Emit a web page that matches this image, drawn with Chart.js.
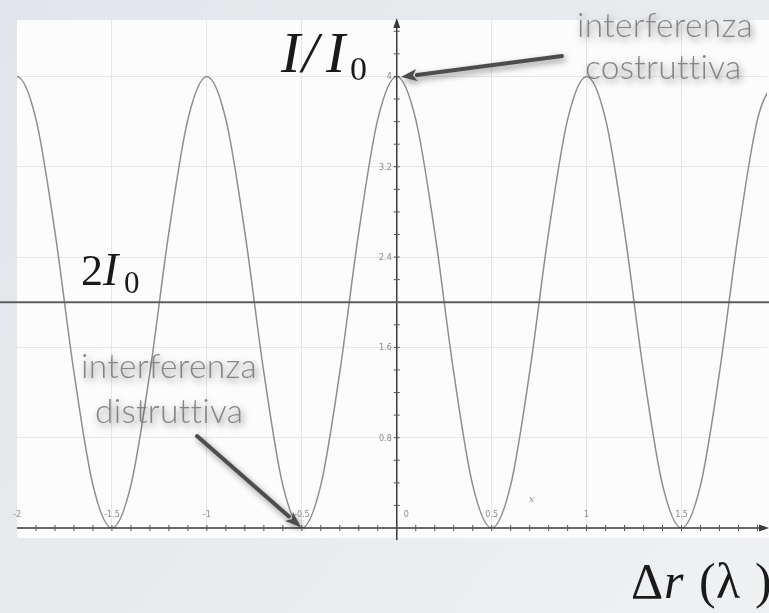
<!DOCTYPE html>
<html>
<head>
<meta charset="utf-8">
<script src="https://cdn.jsdelivr.net/npm/chart.js@4/dist/chart.umd.min.js"></script>
<style>
  html, body { margin: 0; padding: 0; background: #e9ecef; }
  #wrap { width: 769px; height: 613px; }
</style>
</head>
<body>
<div id="wrap"><canvas id="interfChart" width="769" height="613"></canvas></div>
<script>
// path difference (in wavelengths) and intensity I/I0
const deltaR = [-2.1, -2, -1.9, -1.8, -1.7, -1.6, -1.5, -1.4, -1.3, -1.2, -1.1,
                -1, -0.9, -0.8, -0.7, -0.6, -0.5, -0.4, -0.3, -0.2, -0.1,
                0, 0.1, 0.2, 0.3, 0.4, 0.5, 0.6, 0.7, 0.8, 0.9,
                1, 1.1, 1.2, 1.3, 1.4, 1.5, 1.6, 1.7, 1.8, 1.9, 2];
const intensity = [3.62, 4, 3.62, 2.62, 1.38, 0.38, 0, 0.38, 1.38, 2.62, 3.62,
                   4, 3.62, 2.62, 1.38, 0.38, 0, 0.38, 1.38, 2.62, 3.62,
                   4, 3.62, 2.62, 1.38, 0.38, 0, 0.38, 1.38, 2.62, 3.62,
                   4, 3.62, 2.62, 1.38, 0.38, 0, 0.38, 1.38, 2.62, 3.62, 4];
const refLevel = [2];   // 2 I0 line

// tick labels
const xTicks = [-2, -1.5, -1, -0.5, 0, 0.5, 1, 1.5];
const xTickLabels = ['-2', '-1.5', '-1', '-0.5', '0', '0.5', '1', '1.5'];
const yTicks = [0.8, 1.6, 2.4, 3.2, 4];
const yTickLabels = ['0.8', '1.6', '2.4', '3.2', '4'];

function arrow(ctx, x1, y1, x2, y2) {
    const a = Math.atan2(y2 - y1, x2 - x1);
    const len = 16, w = 6;
    const bx = x2 - len * Math.cos(a), by = y2 - len * Math.sin(a);
    ctx.beginPath();
    ctx.moveTo(x1, y1);
    ctx.lineTo(bx, by);
    ctx.stroke();
    ctx.beginPath();
    ctx.moveTo(x2, y2);
    ctx.lineTo(bx + w * Math.sin(a), by - w * Math.cos(a));
    ctx.lineTo(bx + 4 * Math.cos(a), by + 4 * Math.sin(a));
    ctx.lineTo(bx - w * Math.sin(a), by + w * Math.cos(a));
    ctx.closePath();
    ctx.fill();
}

const decor = {
    id: 'decor',
    beforeDraw(chart) {
        const ctx = chart.ctx;
        const W = chart.width, H = chart.height;
        const g = ctx.createLinearGradient(0, 0, W, H);
        g.addColorStop(0, '#e2e6ea');
        g.addColorStop(1, '#eff1f3');
        ctx.save();
        ctx.fillStyle = g;
        ctx.fillRect(0, 0, W, H);
        const a = chart.chartArea;
        ctx.fillStyle = '#fcfcfc';
        ctx.fillRect(a.left, a.top, W - a.left, a.bottom + 10 - a.top);
        ctx.restore();
    },
    afterDatasetsDraw(chart) {
        const ctx = chart.ctx;
        const xs = chart.scales.x, ys = chart.scales.y;
        const a = chart.chartArea;
        const x0 = xs.getPixelForValue(0), y0 = ys.getPixelForValue(0);
        ctx.save();

        // axes
        ctx.strokeStyle = '#3a3a3a';
        ctx.fillStyle = '#3a3a3a';
        ctx.lineWidth = 1.5;
        ctx.beginPath();
        ctx.moveTo(a.left, y0); ctx.lineTo(chart.width - 2, y0);
        ctx.moveTo(x0, a.bottom + 12); ctx.lineTo(x0, a.top + 2);
        ctx.stroke();
        ctx.beginPath();
        ctx.moveTo(x0, a.top - 2); ctx.lineTo(x0 - 3.5, a.top + 8); ctx.lineTo(x0 + 3.5, a.top + 8);
        ctx.closePath(); ctx.fill();
        ctx.beginPath();
        ctx.moveTo(chart.width, y0); ctx.lineTo(chart.width - 10, y0 - 3.5); ctx.lineTo(chart.width - 10, y0 + 3.5);
        ctx.closePath(); ctx.fill();

        // minor ticks
        ctx.lineWidth = 1;
        ctx.strokeStyle = '#555';
        ctx.beginPath();
        for (let v = 0.2; v < 4.45; v += 0.2) {
            const py = ys.getPixelForValue(v);
            ctx.moveTo(x0 - 3, py); ctx.lineTo(x0 + 3, py);
        }
        for (let v = -1.9; v < 1.95; v += 0.1) {
            const px = xs.getPixelForValue(v);
            ctx.moveTo(px, y0 - 3); ctx.lineTo(px, y0 + 3);
        }
        ctx.stroke();

        // tick labels
        ctx.fillStyle = '#8a8a8a';
        ctx.font = '8px "DejaVu Sans"';
        ctx.textBaseline = 'alphabetic';
        xTicks.forEach((v, i) => {
            const px = xs.getPixelForValue(v);
            if (v === 0) { ctx.textAlign = 'left'; ctx.fillText(xTickLabels[i], px + 7, y0 - 11); }
            else if (v === -2) { ctx.textAlign = 'left'; ctx.fillText(xTickLabels[i], px - 4, y0 - 11); }
            else { ctx.textAlign = 'center'; ctx.fillText(xTickLabels[i], px, y0 - 11); }
        });
        ctx.textAlign = 'right';
        yTicks.forEach((v, i) => {
            ctx.fillText(yTickLabels[i], x0 - 5, ys.getPixelForValue(v) + 3);
        });
        ctx.textAlign = 'left';
        ctx.font = 'italic 9px "DejaVu Serif"';
        ctx.fillText('x', 529, 502);

        // 2 I0 level
        ctx.strokeStyle = '#5e5e5e';
        ctx.lineWidth = 2;
        ctx.beginPath();
        const yl = ys.getPixelForValue(refLevel[0]);
        ctx.moveTo(0, yl); ctx.lineTo(chart.width, yl);
        ctx.stroke();

        // math labels
        ctx.fillStyle = '#1a1a1a';
        ctx.textAlign = 'left';
        ctx.font = 'italic 58px "Liberation Serif"';
        ctx.fillText('I', 281, 72);
        ctx.fillText('/', 302, 72);
        ctx.fillText('I', 326, 72);
        ctx.font = '34px "Liberation Serif"';
        ctx.fillText('0', 350, 80);

        ctx.font = '44px "Liberation Serif"';
        ctx.fillText('2', 81, 285);
        ctx.font = 'italic 46px "Liberation Serif"';
        ctx.fillText('I', 103, 285);
        ctx.font = '31px "Liberation Serif"';
        ctx.fillText('0', 124, 293);

        ctx.font = '50px "Liberation Serif"';
        ctx.fillText('\u0394', 631, 598);
        ctx.font = 'italic 50px "Liberation Serif"';
        ctx.fillText('r', 664, 598);
        ctx.font = '50px "Liberation Serif"';
        ctx.fillText('(', 699, 598);
        ctx.fillText('\u03bb', 716, 598);
        ctx.fillText(')', 755, 598);

        // annotation arrows
        ctx.shadowColor = 'rgba(0,0,0,0.45)';
        ctx.shadowBlur = 6;
        ctx.shadowOffsetX = 2;
        ctx.shadowOffsetY = 3;
        ctx.strokeStyle = '#4d4d4d';
        ctx.fillStyle = '#4d4d4d';
        ctx.lineWidth = 4;
        ctx.lineCap = 'round';
        arrow(ctx, 562, 56, 401, 77);
        arrow(ctx, 197, 436, 301, 527);

        // annotation texts
        ctx.shadowColor = 'rgba(0,0,0,0.55)';
        ctx.shadowBlur = 7;
        ctx.fillStyle = '#858585';
        ctx.font = '300 33.5px Lato';
        ctx.letterSpacing = '0.3px';
        ctx.fillText('interferenza', 577, 37);
        ctx.fillText('costruttiva', 585, 79);
        ctx.fillText('interferenza', 81, 378);
        ctx.fillText('distruttiva', 95, 423);
        ctx.restore();
    }
};

const ctx = document.getElementById('interfChart').getContext('2d');
new Chart(ctx, {
    type: 'line',
    data: {
        datasets: [{
            data: deltaR.map((x, i) => ({ x: x, y: intensity[i] })),
            borderColor: '#8e8e8e',
            borderWidth: 1.5,
            pointRadius: 0,
            fill: false,
            cubicInterpolationMode: 'monotone'
        }]
    },
    options: {
        responsive: false,
        animation: false,
        layout: { padding: { left: 17, right: 2, top: 20, bottom: 85 } },
        plugins: {
            legend: { display: false },
            tooltip: { enabled: false }
        },
        scales: {
            x: {
                type: 'linear',
                min: -2,
                max: 1.95,
                afterBuildTicks: s => { s.ticks = xTicks.filter(v => v !== -2).map(v => ({ value: v })); },
                ticks: { display: false },
                grid: { color: '#e6e6e6', drawTicks: false },
                border: { display: false }
            },
            y: {
                min: 0,
                max: 4.5,
                afterBuildTicks: s => { s.ticks = yTicks.map(v => ({ value: v })); },
                ticks: { display: false },
                grid: { color: '#e6e6e6', drawTicks: false },
                border: { display: false }
            }
        }
    },
    plugins: [decor]
});
</script>
</body>
</html>
